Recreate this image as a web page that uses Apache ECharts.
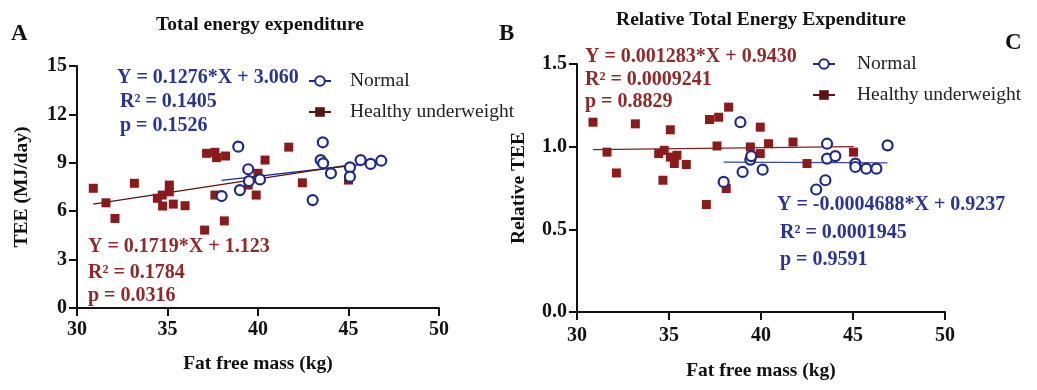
<!DOCTYPE html>
<html>
<head>
<meta charset="utf-8">
<script src="https://cdn.jsdelivr.net/npm/echarts@6/dist/echarts.min.js"></script>
<style>
html,body{margin:0;padding:0;background:#fff;}
#c{width:1037px;height:390px;}
</style>
</head>
<body>
<div id="c"></div>
<script>
// ---- Data ----
// Panel A: TEE (MJ/day) vs fat free mass (kg)
const teeNormal = [
  [38.91,10.0],[43.58,10.27],[43.46,9.17],[43.6,8.97],[44.03,8.35],[45.08,8.72],
  [45.08,8.14],[45.67,9.17],[46.22,8.93],[46.81,9.13],[43.02,6.69],[39.46,8.6],
  [39.5,7.87],[40.11,7.97],[39.0,7.31],[37.99,6.94]
];
const teeUnder = [
  [30.9,7.42],[31.6,6.52],[32.1,5.55],[33.17,7.73],[34.44,6.8],[34.71,7.0],
  [34.73,6.32],[35.1,7.62],[35.1,7.2],[35.32,6.44],[35.97,6.34],[37.62,7.0],
  [37.05,4.83],[38.14,5.4],[39.9,7.0],[42.45,7.76],[45.0,7.93],[37.16,9.59],
  [37.62,9.65],[37.71,9.32],[38.21,9.42],[40.39,9.17],[41.7,9.97],[40.0,8.35],
  [39.46,7.62]
];
// Panel B/C: Relative TEE vs fat free mass (kg)
const relNormal = [
  [38.88,1.148],[37.97,0.787],[39.0,0.847],[39.42,0.922],[39.47,0.943],[40.09,0.861],
  [43.59,1.018],[43.59,0.928],[44.04,0.943],[45.13,0.898],[45.13,0.877],[45.72,0.867],
  [46.27,0.867],[46.88,1.008],[43.5,0.797],[43.0,0.741]
];
const relUnder = [
  [30.87,1.148],[31.63,0.967],[32.14,0.841],[33.17,1.138],[34.44,0.958],[34.74,0.978],
  [34.67,0.797],[35.07,1.102],[35.07,0.937],[35.29,0.898],[35.43,0.948],[35.94,0.892],
  [37.2,1.164],[37.7,1.178],[38.24,1.239],[37.61,1.004],[38.11,0.747],[37.03,0.65],
  [39.42,0.998],[39.96,1.118],[39.96,0.958],[40.41,1.018],[41.74,1.028],[42.5,0.898],
  [45.03,0.967]
];
// Regression fits: [slope, intercept], drawn over x range
const teeNormalFit = [0.1276, 3.060];   const teeNormalRange = [37.99, 46.81];
const teeUnderFit  = [0.1719, 1.123];   const teeUnderRange  = [30.9, 45.0];
const relNormalFit = [-0.0004688, 0.9237]; const relNormalRange = [37.97, 46.88];
const relUnderFit  = [0.001283, 0.9430];   const relUnderRange  = [30.87, 45.03];

const xTicks = [30, 35, 40, 45, 50];
const teeTicks = [0, 3, 6, 9, 12, 15];
const relTicks = [0.0, 0.5, 1.0, 1.5];

const seriesNames = ['Normal', 'Healthy underweight'];

// ---- Styles ----
const BLUE = '#1f2a86';
const RED = '#8b1a1a';
const BLUE_TXT = '#2b3590';
const RED_TXT = '#8e2a2a';
const FONT = '"Liberation Serif", "Times New Roman", serif';

function fitLine(fit, range) {
  return range.map(x => [x, fit[0] * x + fit[1]]);
}

function axisX(gridIndex, nameGap, margin) {
  return {
    type: 'value', gridIndex, min: xTicks[0], max: xTicks[xTicks.length-1], interval: 5,
    name: 'Fat free mass (kg)', nameLocation: 'middle', nameGap,
    nameTextStyle: {fontFamily: FONT, fontWeight: 'bold', fontSize: 19.5, color: '#111'},
    axisLine: {show: true, lineStyle: {color: '#111', width: 2}},
    axisTick: {show: true, length: 8, lineStyle: {color: '#111', width: 2}},
    axisLabel: {fontFamily: FONT, fontWeight: 'bold', fontSize: 20, color: '#111', margin},
    splitLine: {show: false}
  };
}
function axisY(gridIndex, ticks, interval, name, nameGap, fmt) {
  return {
    type: 'value', gridIndex, min: ticks[0], max: ticks[ticks.length-1], interval,
    name, nameLocation: 'middle', nameGap,
    nameTextStyle: {fontFamily: FONT, fontWeight: 'bold', fontSize: 19.5, color: '#111'},
    axisLine: {show: true, onZero: false, lineStyle: {color: '#111', width: 2}},
    axisTick: {show: true, length: 8, lineStyle: {color: '#111', width: 2}},
    axisLabel: {fontFamily: FONT, fontWeight: 'bold', fontSize: 20, color: '#111', margin: 10, formatter: fmt},
    splitLine: {show: false}
  };
}

function lineSeries(name, idx, data, color, symbol) {
  return {
    type: 'line', name, xAxisIndex: idx, yAxisIndex: idx, data,
    symbol, symbolSize: 10, showSymbol: false, silent: true,
    lineStyle: {color: color, width: 1.3},
    itemStyle: {color: color},
    z: 1
  };
}
function normalScatter(idx, data) {
  return {
    type: 'scatter', name: seriesNames[0], xAxisIndex: idx, yAxisIndex: idx, data,
    symbol: 'circle', symbolSize: 10,
    itemStyle: {color: '#fff', opacity: 1, borderColor: BLUE, borderWidth: 2.2},
    z: 3
  };
}
function underScatter(idx, data) {
  return {
    type: 'scatter', name: seriesNames[1], xAxisIndex: idx, yAxisIndex: idx, data,
    symbol: 'rect', symbolSize: 9,
    itemStyle: {color: RED, opacity: 1},
    z: 2
  };
}

function txt(text, x, y, color, size, weight, align) {
  return {
    type: 'text', x, y, silent: true,
    style: {text, fill: color, font: (weight || 'bold') + ' ' + size + 'px ' + FONT,
            align: align || 'left', verticalAlign: 'middle'}
  };
}

function legendAt(left, top, pad) {
  return {
    data: seriesNames, orient: 'vertical', left, top,
    itemWidth: 22, itemHeight: 12, itemGap: 11,
    textStyle: {fontFamily: FONT, fontSize: 19.5, color: '#222', padding: [0, 0, 0, pad]},
    lineStyle: {width: 2},
    selectedMode: false
  };
}

const chart = echarts.init(document.getElementById('c'), null, {renderer: 'canvas'});
chart.setOption({
  backgroundColor: '#fff',
  animation: false,
  grid: [
    {left: 77, top: 66, width: 362, height: 242},
    {left: 577, top: 64, width: 368, height: 248}
  ],
  xAxis: [axisX(0, 46, 12), axisX(1, 49, 14)],
  yAxis: [
    axisY(0, teeTicks, 3, 'TEE (MJ/day)', 45, v => String(v)),
    axisY(1, relTicks, 0.5, 'Relative TEE', 48, v => v.toFixed(1))
  ],
  legend: [legendAt(303, 66, 14), legendAt(807, 49, 17)],
  series: [
    lineSeries(seriesNames[0], 0, fitLine(teeNormalFit, teeNormalRange), BLUE, 'emptyCircle'),
    lineSeries(seriesNames[1], 0, fitLine(teeUnderFit, teeUnderRange), '#5a1414', 'rect'),
    lineSeries(seriesNames[0], 1, fitLine(relNormalFit, relNormalRange), '#3a4a9c', 'emptyCircle'),
    lineSeries(seriesNames[1], 1, fitLine(relUnderFit, relUnderRange), '#7a2424', 'rect'),
    underScatter(0, teeUnder),
    normalScatter(0, teeNormal),
    underScatter(1, relUnder),
    normalScatter(1, relNormal)
  ],
  graphic: [
    txt('A', 11, 34, '#111', 23),
    txt('B', 499, 34, '#111', 23),
    txt('C', 1005, 43, '#111', 23),
    txt('Total energy expenditure', 260, 25, '#111', 19.5, 'bold', 'center'),
    txt('Relative Total Energy Expenditure', 761, 20, '#111', 19.5, 'bold', 'center'),
    txt('Y = 0.1276*X + 3.060', 117, 78, BLUE_TXT, 20),
    txt('R² = 0.1405', 120, 102, BLUE_TXT, 20),
    txt('p = 0.1526', 120, 126, BLUE_TXT, 20),
    txt('Y = 0.1719*X + 1.123', 88, 247, RED_TXT, 20),
    txt('R² = 0.1784', 88, 273, RED_TXT, 20),
    txt('p = 0.0316', 88, 296, RED_TXT, 20),
    txt('Y = 0.001283*X + 0.9430', 585, 57, RED_TXT, 20),
    txt('R² = 0.0009241', 585, 80, RED_TXT, 20),
    txt('p = 0.8829', 585, 102, RED_TXT, 20),
    txt('Y = -0.0004688*X + 0.9237', 777, 205, BLUE_TXT, 20),
    txt('R² = 0.0001945', 780, 233, BLUE_TXT, 20),
    txt('p = 0.9591', 780, 260, BLUE_TXT, 20)
  ]
});
</script>
</body>
</html>
